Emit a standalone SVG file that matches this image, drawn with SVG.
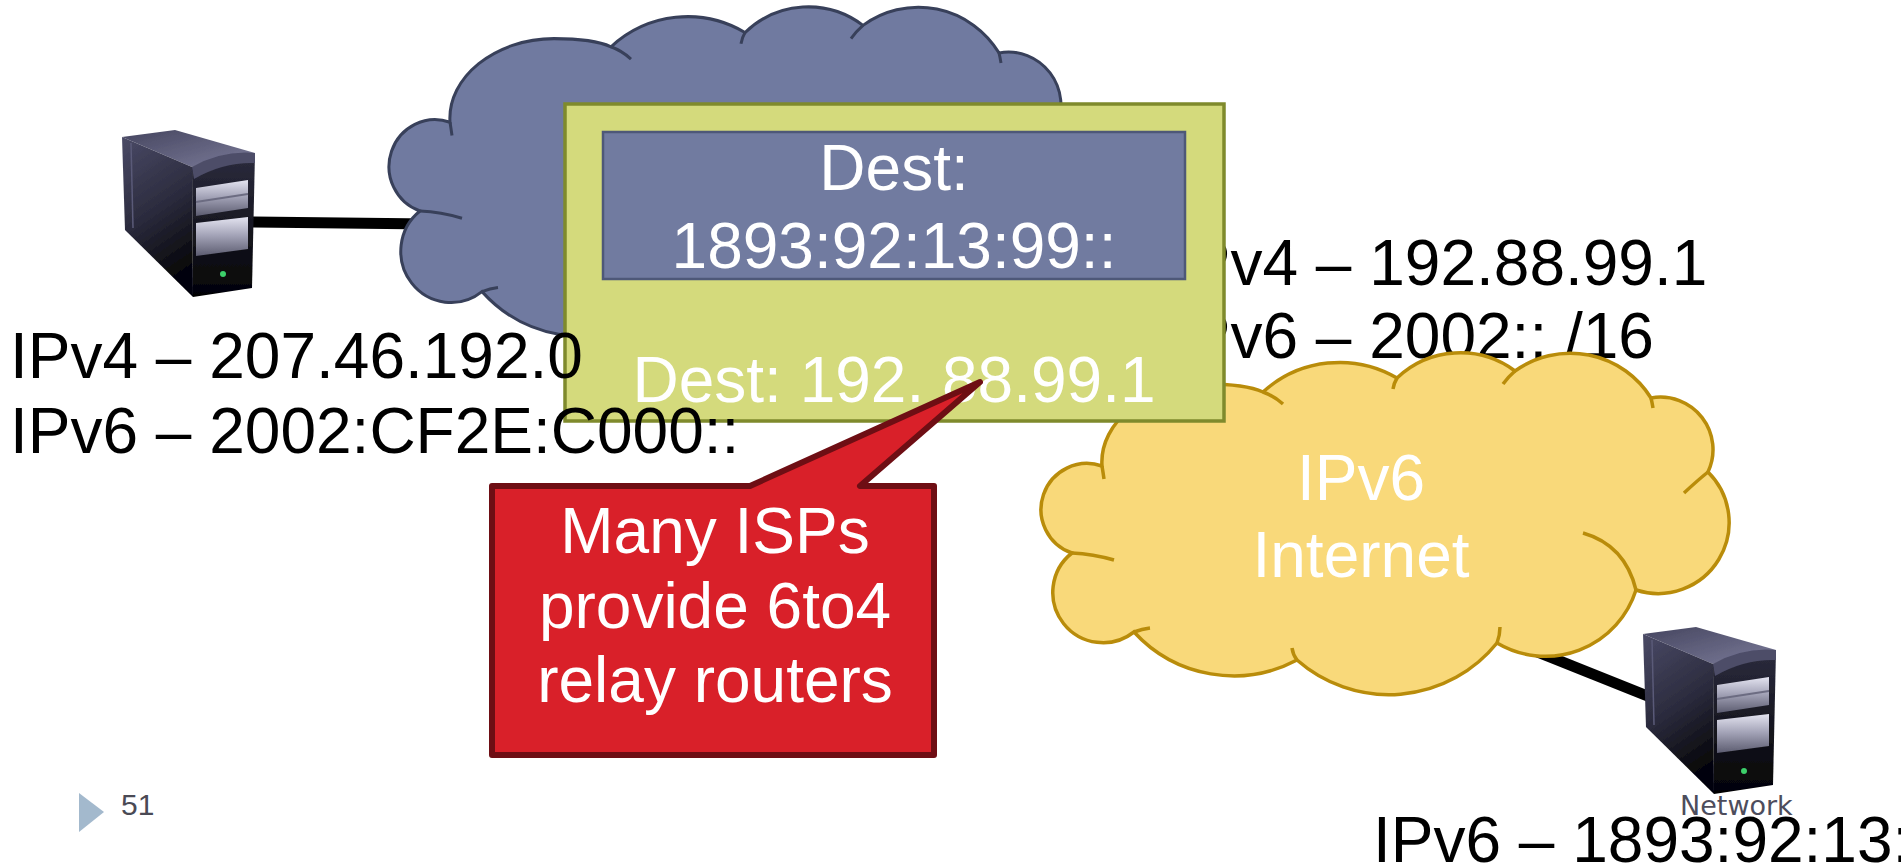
<svg xmlns="http://www.w3.org/2000/svg" width="1901" height="864" viewBox="0 0 1901 864">
  <defs>
    <style>
      .t{font-family:"Liberation Sans",Arial,Helvetica,sans-serif;font-size:64px}
      .blk{fill:#000}
      .wht{fill:#fff}
      .mid{text-anchor:middle}
      .link{stroke:#000;stroke-width:11;fill:none}
      .cloud-blue{fill:#707aa0;stroke:#38405a;stroke-width:3}
      .cloud-yellow{fill:#f9d97a;stroke:#b98c0a;stroke-width:3.5}
      .cloud-inner{fill:none}
      .inner-blue{stroke:#38405a;stroke-width:3;fill:none}
      .inner-yellow{stroke:#b98c0a;stroke-width:3.5;fill:none}
    </style>

    <!-- cloud outline, local frame 0..693 x 0..345 -->
    <path id="cloud-outline" d="M35 201 A40 40 0 0 1 65 114 C62 70 110 32 169 32 C195 32 215 35 226 40 A114 114 0 0 1 360 26 A92 92 0 0 1 478 19 A95 95 0 0 1 614 46 A52.5 52.5 0 0 1 671 120 A71 71 0 0 1 599 238 A95 95 0 0 1 460 291 A139 139 0 0 1 260 308 A135 135 0 0 1 97 280 A45 45 0 0 1 35 201 Z"/>
    <!-- short inner strokes where the lobes meet -->
    <path id="cloud-folds" d="M65 114 Q66 120 67 127 M226 40 Q237 44 246 52 M360 26 Q357 31 356 37 M478 19 Q471 25 466 32 M614 46 Q615 50 616 56 M671 120 Q661 128 647 141 M546 181 Q588 193 599 238 M460 291 Q463 283 463 275 M260 308 Q256 303 255 296 M97 280 Q105 277 113 276 M35 201 Q56 202 77 208"/>

    <linearGradient id="srvTop" x1="0" y1="0" x2="1" y2="1">
      <stop offset="0" stop-color="#45455f"/>
      <stop offset="1" stop-color="#7b7b99"/>
    </linearGradient>
    <linearGradient id="srvSide" x1="0" y1="0" x2="0.3" y2="1">
      <stop offset="0" stop-color="#4a4a66"/>
      <stop offset="0.55" stop-color="#2b2b3d"/>
      <stop offset="1" stop-color="#060609"/>
    </linearGradient>
    <linearGradient id="srvFront" x1="0" y1="0" x2="0" y2="1">
      <stop offset="0" stop-color="#2c2c3e"/>
      <stop offset="1" stop-color="#030305"/>
    </linearGradient>
    <linearGradient id="srvBay" x1="0" y1="0" x2="0" y2="1">
      <stop offset="0" stop-color="#e4e4f0"/>
      <stop offset="0.45" stop-color="#a6a6ba"/>
      <stop offset="1" stop-color="#5c5c70"/>
    </linearGradient>
    <filter id="soft" x="-10%" y="-10%" width="120%" height="120%">
      <feGaussianBlur stdDeviation="0.7"/>
    </filter>

    <!-- tower server icon, local frame 0..133 x 0..167 -->
    <g id="server-icon" filter="url(#soft)">
      <polygon points="0,7 53,0 133,23 70,37" fill="url(#srvTop)"/>
      <polygon points="0,7 70,37 71,167 3,100" fill="url(#srvSide)"/>
      <line x1="9" y1="13" x2="11" y2="98" stroke="#5a5a78" stroke-width="1.5"/>
      <polygon points="70,37 133,23 130,158 71,167" fill="url(#srvFront)"/>
      <path d="M70 37 Q100 20 133 23 L133 33 Q101 32 72 49 Z" fill="#4d4d68"/>
      <polygon points="74,58 126,50 126,78 74,86" fill="url(#srvBay)"/>
      <line x1="74" y1="72" x2="126" y2="64" stroke="#6c6c82" stroke-width="2"/>
      <polygon points="74,93 126,87 126,119 74,126" fill="url(#srvBay)"/>
      <circle cx="101" cy="144" r="3" fill="#3ccf6a"/>
    </g>
  </defs>

  <!-- links between hosts and clouds -->
  <g id="connectors">
    <line class="link" x1="250" y1="222" x2="430" y2="224"/>
    <line class="link" x1="1480" y1="629" x2="1670" y2="705"/>
  </g>

  <!-- IPv4 cloud -->
  <g id="ipv4-cloud" transform="translate(385 6) scale(1 1.02)">
    <use href="#cloud-outline" class="cloud-blue"/>
    <use href="#cloud-folds" class="inner-blue"/>
  </g>

  <!-- relay router addresses -->
  <g id="relay-address">
    <text class="t blk" x="1170" y="285">IPv4 – 192.88.99.1</text>
    <text class="t blk" x="1170" y="358">IPv6 – 2002:: /16</text>
  </g>

  <!-- IPv6 cloud -->
  <g id="ipv6-cloud" transform="translate(1037 352)">
    <use href="#cloud-outline" class="cloud-yellow"/>
    <use href="#cloud-folds" class="inner-yellow"/>
    <text class="t wht mid" x="324" y="148">IPv6</text>
    <text class="t wht mid" x="324" y="225">Internet</text>
  </g>

  <!-- encapsulated packet -->
  <g id="packet">
    <rect x="565" y="104" width="659" height="317" fill="#d4da7c" stroke="#7f8a2c" stroke-width="3.5"/>
    <rect x="603" y="132" width="582" height="147" fill="#717ba0" stroke="#4e5878" stroke-width="2.5"/>
    <text class="t wht mid" x="894" y="190">Dest:</text>
    <text class="t wht mid" x="894" y="268">1893:92:13:99::</text>
    <text class="t wht mid" x="894" y="402">Dest: 192. 88.99.1</text>
  </g>

  <!-- source host -->
  <g id="source-host">
    <use href="#server-icon" transform="translate(122 130)"/>
    <text class="t blk" x="10" y="378">IPv4 – 207.46.192.0</text>
    <text class="t blk" x="10" y="453">IPv6 – 2002:CF2E:C000::</text>
  </g>

  <!-- callout -->
  <g id="relay-note">
    <path d="M492 486 L750 486 L980 382 L860 486 L934 486 L934 755 L492 755 Z" fill="#d92029" stroke="#6e0e14" stroke-width="6" stroke-linejoin="round"/>
    <text class="t wht mid" x="715" y="553">Many ISPs</text>
    <text class="t wht mid" x="715" y="628">provide 6to4</text>
    <text class="t wht mid" x="715" y="702">relay routers</text>
  </g>

  <!-- destination host -->
  <g id="dest-host">
    <use href="#server-icon" transform="translate(1643 627)"/>
    <text x="1680" y="815" style="font-family:'DejaVu Sans',Verdana,sans-serif;font-size:27px;fill:#4d4d5c">Network</text>
    <text class="t blk" x="1373" y="862">IPv6 – 1893:92:13:</text>
  </g>

  <!-- slide number -->
  <g id="slide-number">
    <polygon points="79,793 104,812 79,832" fill="#a3b9cd"/>
    <text x="121" y="815" style="font-family:'Liberation Sans',Arial,sans-serif;font-size:30px;fill:#4a4a55">51</text>
  </g>
</svg>
